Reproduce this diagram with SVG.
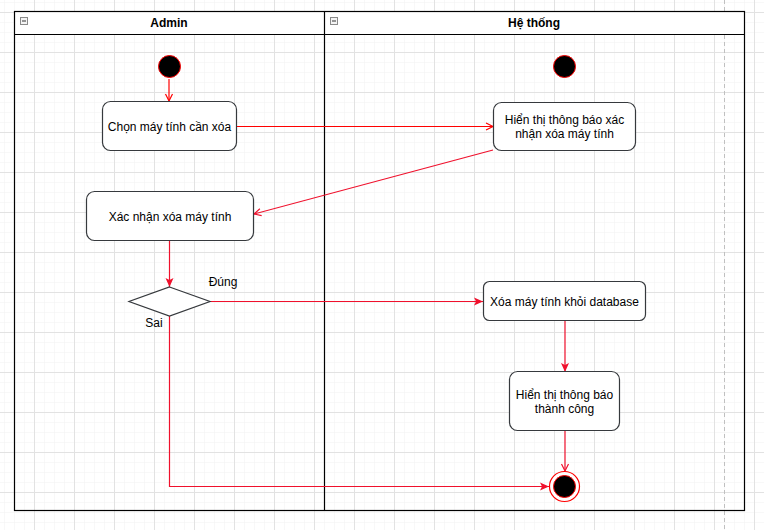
<svg xmlns="http://www.w3.org/2000/svg" width="764" height="530" viewBox="0 0 764 530">
  <defs>
    <pattern id="gridMinor" x="4" y="2" width="10" height="10" patternUnits="userSpaceOnUse">
      <path d="M0,0 H10 M0,0 V10" fill="none" stroke="#f1f1f1" stroke-width="1"/>
    </pattern>
    <pattern id="gridMajor" x="34" y="12" width="40" height="40" patternUnits="userSpaceOnUse">
      <path d="M0,0.5 H40 M0.5,0 V40" fill="none" stroke="#e2e2e2" stroke-width="1"/>
    </pattern>
    <marker id="openArrow" markerUnits="userSpaceOnUse" markerWidth="10" markerHeight="10" refX="8" refY="4" orient="auto" viewBox="0 0 10 8">
      <path d="M1,0.5 L8,4 L1,7.5" fill="none" stroke="context-stroke" stroke-width="1.2"/>
    </marker>
    <marker id="blockArrow" markerUnits="userSpaceOnUse" markerWidth="10" markerHeight="10" refX="9" refY="4" orient="auto" viewBox="0 0 10 8">
      <path d="M0,0 L9,4 L0,8 L2,4 Z" fill="#f0102c" stroke="none"/>
    </marker>
    <marker id="openArrowRed" markerUnits="userSpaceOnUse" markerWidth="10" markerHeight="10" refX="8" refY="4" orient="auto" viewBox="0 0 10 8">
      <path d="M1,0.5 L8,4 L1,7.5" fill="none" stroke="#ff0000" stroke-width="1.2"/>
    </marker>
    <marker id="openArrowCrimson" markerUnits="userSpaceOnUse" markerWidth="10" markerHeight="10" refX="8" refY="4" orient="auto" viewBox="0 0 10 8">
      <path d="M1,0.5 L8,4 L1,7.5" fill="none" stroke="#f0102c" stroke-width="1.2"/>
    </marker>
  </defs>
  <style>
    .txt { font-family: "Liberation Sans", Arial, sans-serif; font-size: 12px; fill: #000; text-anchor: middle; }
    .hdr { font-family: "Liberation Sans", Arial, sans-serif; font-size: 12px; font-weight: bold; fill: #000; text-anchor: middle; }
    .act { fill: #ffffff; stroke: #36393d; stroke-width: 1.2; }
    .edge { fill: none; stroke-width: 1.2; }
    .red { stroke: #ff0000; }
    .crim { stroke: #f0102c; }
    .startNode { fill: #000; stroke: #ff0000; stroke-width: 1; }
    .icon { fill: #f4f4f4; stroke: #8a8a8a; stroke-width: 1; }
  </style>

  <!-- canvas grid -->
  <rect x="0" y="0" width="764" height="530" fill="#ffffff"/>
  <rect x="0" y="0" width="764" height="530" fill="url(#gridMinor)"/>
  <rect x="0" y="0" width="764" height="530" fill="url(#gridMajor)"/>
  <!-- page break -->
  <line x1="724.5" y1="0" x2="724.5" y2="530" stroke="#c0c0c0" stroke-width="1" stroke-dasharray="4,3"/>

  <!-- swimlane pool -->
  <g id="pool">
    <rect x="14.5" y="11.5" width="730" height="23" fill="#ffffff"/>
    <rect x="14.5" y="11.5" width="730" height="499" fill="none" stroke="#000" stroke-width="1.2"/>
    <line x1="14.5" y1="34.5" x2="744.5" y2="34.5" stroke="#000" stroke-width="1.2"/>
    <line x1="324.5" y1="11.5" x2="324.5" y2="510.5" stroke="#000" stroke-width="1.2"/>
  </g>
  <g id="lane-admin">
    <rect class="icon" x="20.5" y="17.5" width="7" height="7"/>
    <line x1="22" y1="21" x2="26" y2="21" stroke="#333" stroke-width="1"/>
    <text class="hdr" x="169" y="27">Admin</text>
  </g>
  <g id="lane-system">
    <rect class="icon" x="330.5" y="17.5" width="7" height="7"/>
    <line x1="332" y1="21" x2="336" y2="21" stroke="#333" stroke-width="1"/>
    <text class="hdr" x="534" y="27">Hệ thống</text>
  </g>

  <!-- connectors -->
  <g id="connectors">
    <line class="edge red" x1="169" y1="79" x2="169" y2="101" marker-end="url(#openArrowRed)"/>
    <line class="edge red" x1="236" y1="126.5" x2="493" y2="126.5" marker-end="url(#openArrowRed)"/>
    <line class="edge crim" x1="493" y1="150" x2="254" y2="214" marker-end="url(#openArrowCrimson)"/>
    <line class="edge crim" x1="169.5" y1="241" x2="169.5" y2="287" marker-end="url(#blockArrow)"/>
    <line class="edge crim" x1="210" y1="301.5" x2="483" y2="301.5" marker-end="url(#blockArrow)"/>
    <line class="edge crim" x1="565" y1="321" x2="565" y2="372" marker-end="url(#blockArrow)"/>
    <line class="edge crim" x1="565" y1="431" x2="565" y2="471" marker-end="url(#openArrowCrimson)"/>
    <polyline class="edge crim" points="169.5,316 169.5,486.5 549,486.5" marker-end="url(#blockArrow)"/>
    <text class="txt" x="223" y="286">Đúng</text>
    <text class="txt" x="154" y="327">Sai</text>
  </g>

  <!-- nodes -->
  <g id="start-admin">
    <circle class="startNode" cx="169.5" cy="66.5" r="11"/>
  </g>
  <g id="start-system">
    <circle class="startNode" cx="564.5" cy="66.5" r="11"/>
  </g>
  <g id="chon-may-tinh">
    <rect class="act" x="102.5" y="101.5" width="134" height="49" rx="8"/>
    <text class="txt" x="169.5" y="130.5">Chọn máy tính cần xóa</text>
  </g>
  <g id="hien-thi-xac-nhan">
    <rect class="act" x="493.5" y="102.5" width="142" height="48" rx="8"/>
    <text class="txt" x="564.5" y="124">Hiển thị thông báo xác</text>
    <text class="txt" x="564.5" y="138">nhận xóa máy tính</text>
  </g>
  <g id="xac-nhan-xoa">
    <rect class="act" x="86.5" y="191.5" width="167" height="49" rx="8"/>
    <text class="txt" x="170" y="221">Xác nhận xóa máy tính</text>
  </g>
  <g id="decision">
    <polygon points="169.5,287 210,301.5 169.5,316 129,301.5" fill="#ffffff" stroke="#36393d" stroke-width="1.2"/>
  </g>
  <g id="xoa-khoi-database">
    <rect class="act" x="483.5" y="281.5" width="162" height="39" rx="6"/>
    <text class="txt" x="564.5" y="306">Xóa máy tính khỏi database</text>
  </g>
  <g id="hien-thi-thanh-cong">
    <rect class="act" x="509.5" y="371.5" width="110" height="59" rx="8"/>
    <text class="txt" x="564.5" y="399">Hiển thị thông báo</text>
    <text class="txt" x="564.5" y="413">thành công</text>
  </g>
  <g id="end-node">
    <circle cx="564.5" cy="486.5" r="15" fill="#ffffff" stroke="#ff0000" stroke-width="1.2"/>
    <circle cx="564.5" cy="486.5" r="11" fill="#000" stroke="#ff0000" stroke-width="1"/>
  </g>
</svg>
